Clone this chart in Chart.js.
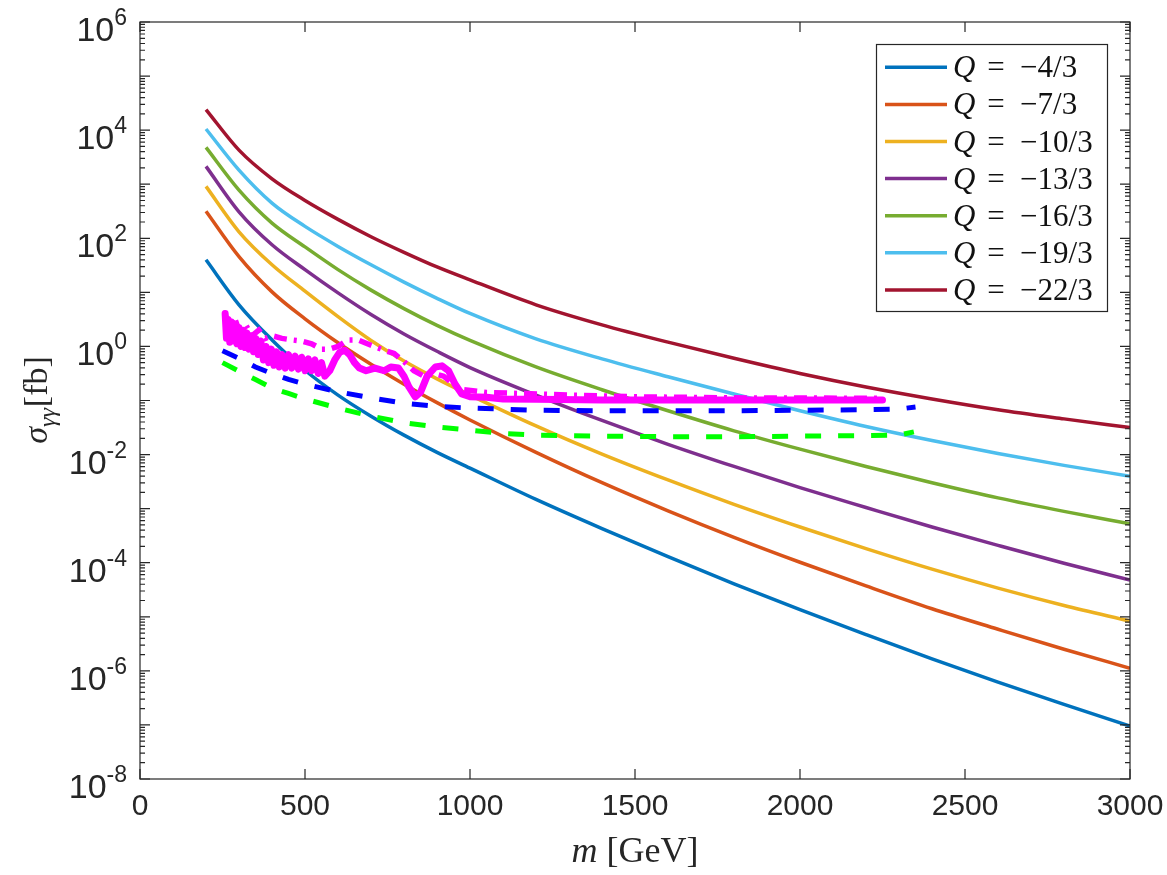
<!DOCTYPE html>
<html>
<head>
<meta charset="utf-8">
<script src="https://cdn.jsdelivr.net/npm/chart.js@4.4.0/dist/chart.umd.min.js"></script>
<style>
body { margin: 0; background: #ffffff; }
#caixa { width: 1167px; height: 875px; }
</style>
</head>
<body>
<div id="caixa"><canvas id="grafico"></canvas></div>
<script>
// ////////////// DADOS //////////////

var massa = [200, 300, 400, 500, 600, 700, 800, 900, 1000, 1200, 1400, 1600, 1800, 2000, 2200, 2400, 2600, 2800, 3000];

var sigmaQ4 = [40, 5.89, 1.32, 3.63e-1, 1.26e-1, 5.13e-2, 2.29e-2, 1.10e-2, 5.62e-3, 1.48e-3, 4.27e-4, 1.29e-4, 4.07e-5, 1.35e-5, 4.68e-6, 1.66e-6, 6.17e-7, 2.40e-7, 9.55e-8];
var sigmaQ7 = [316, 45.7, 10.2, 3.24, 1.17, 4.68e-1, 2.00e-1, 9.12e-2, 4.37e-2, 1.10e-2, 3.02e-3, 9.12e-4, 2.95e-4, 1.02e-4, 3.72e-5, 1.41e-5, 5.89e-6, 2.51e-6, 1.12e-6];
var sigmaQ10 = [912, 132, 32.4, 10.5, 3.55, 1.29, 5.37e-1, 2.51e-1, 1.26e-1, 3.39e-2, 1.02e-2, 3.39e-3, 1.20e-3, 4.57e-4, 1.82e-4, 7.59e-5, 3.39e-5, 1.62e-5, 8.32e-6];
var sigmaQ13 = [2.14e3, 309, 75.9, 26.3, 9.77, 3.89, 1.70, 8.13e-1, 4.07e-1, 1.26e-1, 4.27e-2, 1.55e-2, 6.03e-3, 2.45e-3, 1.05e-3, 4.57e-4, 2.09e-4, 9.77e-5, 4.79e-5];
var sigmaQ16 = [4.79e3, 776, 191, 69.2, 26.3, 11.0, 5.01, 2.45, 1.29, 4.17e-1, 1.58e-1, 6.46e-2, 2.75e-2, 1.26e-2, 6.03e-3, 3.02e-3, 1.58e-3, 8.91e-4, 5.25e-4];
var sigmaQ19 = [1.05e4, 1.82e3, 447, 166, 70.8, 32.4, 15.5, 7.76, 4.07, 1.38, 5.89e-1, 2.75e-1, 1.32e-1, 6.46e-2, 3.31e-2, 1.82e-2, 1.05e-2, 6.31e-3, 3.98e-3];
var sigmaQ22 = [2.40e4, 4.27e3, 1.26e3, 501, 224, 107, 55.0, 29.5, 17.0, 5.89, 2.51, 1.20, 6.03e-1, 3.16e-1, 1.78e-1, 1.07e-1, 6.76e-2, 4.57e-2, 3.16e-2];

var rotulos = ["\u22124/3", "\u22127/3", "\u221210/3", "\u221213/3", "\u221216/3", "\u221219/3", "\u221222/3"];
var cores = ["#0072BD", "#D95319", "#EDB120", "#7E2F8E", "#77AC30", "#4DBEEE", "#A2142F"];

// limites experimentais
var massaAzul = [250, 300, 350, 400, 450, 500, 600, 700, 800, 900, 1000, 1100, 1200, 1400, 1600, 1800, 2000, 2200, 2300, 2350];
var limiteAzul = [8.32e-1, 6.03e-1, 4.17e-1, 3.16e-1, 2.45e-1, 2.00e-1, 1.45e-1, 1.12e-1, 8.91e-2, 7.76e-2, 7.24e-2, 6.92e-2, 6.61e-2, 6.46e-2, 6.46e-2, 6.46e-2, 6.61e-2, 6.76e-2, 6.92e-2, 7.59e-2];

var massaVerde = [250, 300, 350, 400, 450, 500, 600, 700, 800, 900, 1000, 1100, 1200, 1400, 1600, 1800, 2000, 2200, 2300, 2345];
var limiteVerde = [5.01e-1, 3.47e-1, 2.45e-1, 1.70e-1, 1.35e-1, 1.07e-1, 7.24e-2, 5.13e-2, 3.89e-2, 3.24e-2, 2.82e-2, 2.45e-2, 2.29e-2, 2.19e-2, 2.14e-2, 2.14e-2, 2.19e-2, 2.24e-2, 2.29e-2, 2.63e-2];

var massaMagenta = [258, 262, 267, 272, 277, 282, 288, 294, 300, 306, 312, 318, 324, 330, 337, 344, 351, 358, 366, 374, 382, 390, 398, 406, 414, 422, 430, 440, 450, 460, 470, 480, 490, 500, 510, 520, 530, 540, 550, 560, 575, 590, 605, 620, 635, 650, 665, 685, 712, 740, 760, 783, 800, 815, 834, 850, 870, 895, 915, 935, 955, 975, 1000, 1050, 1100, 1200, 1400, 1700, 2000, 2250];
var limiteMagenta = [4.07, 1.41, 3.16, 1.20, 2.82, 1.26, 2.51, 1.12, 2.24, 1.00, 2.00, 0.955, 1.78, 0.891, 1.58, 0.794, 1.41, 0.708, 1.26, 0.562, 1.00, 0.501, 0.891, 0.447, 0.794, 0.417, 0.708, 0.398, 0.708, 0.398, 0.661, 0.380, 0.631, 0.355, 0.589, 0.355, 0.562, 0.316, 0.501, 0.282, 0.355, 0.562, 0.776, 0.851, 0.708, 0.501, 0.398, 0.355, 0.398, 0.355, 0.417, 0.398, 0.282, 0.178, 0.117, 0.141, 0.282, 0.417, 0.437, 0.355, 0.200, 0.132, 0.117, 0.115, 0.107, 0.105, 0.102, 0.102, 0.102, 0.102];

var massaMagentaTraco = [258, 270, 285, 300, 320, 340, 360, 380, 400, 430, 460, 490, 520, 550, 575, 600, 630, 660, 700, 740, 770, 800, 830, 860, 890, 920, 950, 980, 1050, 1150, 1300, 1500, 1800, 2250];
var limiteMagentaTraco = [3.98, 2.24, 3.55, 2.00, 2.51, 1.58, 2.00, 1.41, 1.58, 1.41, 1.32, 1.26, 1.12, 0.891, 0.891, 1.00, 1.32, 1.32, 1.05, 0.851, 0.741, 0.525, 0.355, 0.282, 0.316, 0.282, 0.200, 0.158, 0.141, 0.135, 0.126, 0.117, 0.112, 0.110];

// eixos
var xTicks = [0, 500, 1000, 1500, 2000, 2500, 3000];
var yExpoentes = [-8, -6, -4, -2, 0, 2, 4, 6];

// ////////////// FUNCOES //////////////

function pontos(xs, ys) {
	return xs.map(function(x, i) { return { x: x, y: ys[i] }; });
}

var series = [sigmaQ4, sigmaQ7, sigmaQ10, sigmaQ13, sigmaQ16, sigmaQ19, sigmaQ22];
var datasets = [];
for (var i = 0; i < series.length; i++) {
	datasets.push({
		label: "Q = " + rotulos[i],
		data: pontos(massa, series[i]),
		borderColor: cores[i],
		borderWidth: 3.5,
		cubicInterpolationMode: 'monotone',
		pointRadius: 0,
		fill: false,
		order: 2
	});
}
datasets.push({ label: "limite1", data: pontos(massaAzul, limiteAzul), borderColor: "#0000FF", borderWidth: 5, borderDash: [16, 17], pointRadius: 0, fill: false, order: 1 });
datasets.push({ label: "limite2", data: pontos(massaVerde, limiteVerde), borderColor: "#00FF00", borderWidth: 5, borderDash: [16, 17], pointRadius: 0, fill: false, order: 1 });
datasets.push({ label: "limite3", data: pontos(massaMagenta, limiteMagenta), borderColor: "#FF00FF", borderWidth: 7, borderJoinStyle: 'round', borderCapStyle: 'round', pointRadius: 0, fill: false, order: 1 });
datasets.push({ label: "limite4", data: pontos(massaMagentaTraco, limiteMagentaTraco), borderColor: "#FF00FF", borderWidth: 5.5, borderDash: [13, 7, 3, 7], pointRadius: 0, fill: false, order: 1 });

// plugin: caixa, marcas, rotulos e legenda no estilo do matlab
var moldura = {
	id: 'moldura',
	afterDraw: function(chart) {
		var ctx = chart.ctx;
		var a = chart.chartArea;
		var sx = chart.scales.x;
		var sy = chart.scales.y;
		ctx.save();
		ctx.strokeStyle = '#262626';
		ctx.fillStyle = '#262626';
		ctx.lineWidth = 1.2;
		ctx.strokeRect(a.left, a.top, a.right - a.left, a.bottom - a.top);

		// eixo x
		ctx.font = '30px "Liberation Sans", Arial, sans-serif';
		ctx.textAlign = 'center';
		ctx.textBaseline = 'top';
		xTicks.forEach(function(v) {
			var p = sx.getPixelForValue(v);
			ctx.beginPath();
			ctx.moveTo(p, a.bottom); ctx.lineTo(p, a.bottom - 10);
			ctx.moveTo(p, a.top); ctx.lineTo(p, a.top + 10);
			ctx.stroke();
			ctx.fillText(String(v), p, a.bottom + 13);
		});

		// eixo y (log)
		for (var e = yExpoentes[0]; e <= yExpoentes[yExpoentes.length - 1]; e++) {
			for (var k = 1; k <= 9; k++) {
				if (e == yExpoentes[yExpoentes.length - 1] && k > 1) break;
				var p = sy.getPixelForValue(k * Math.pow(10, e));
				var len = (k == 1) ? 10 : 5;
				ctx.beginPath();
				ctx.moveTo(a.left, p); ctx.lineTo(a.left + len, p);
				ctx.moveTo(a.right, p); ctx.lineTo(a.right - len, p);
				ctx.stroke();
			}
		}
		ctx.textAlign = 'left';
		ctx.textBaseline = 'alphabetic';
		yExpoentes.forEach(function(e) {
			var p = sy.getPixelForValue(Math.pow(10, e));
			ctx.font = '34px "Liberation Sans", Arial, sans-serif';
			var w1 = ctx.measureText('10').width;
			ctx.font = '23px "Liberation Sans", Arial, sans-serif';
			var w2 = ctx.measureText(String(e)).width;
			var x0 = a.left - 13 - w1 - w2;
			ctx.font = '34px "Liberation Sans", Arial, sans-serif';
			ctx.fillText('10', x0, p + 19);
			ctx.font = '23px "Liberation Sans", Arial, sans-serif';
			ctx.fillText(String(e), x0 + w1, p + 3);
		});

		// titulo eixo x
		ctx.font = 'italic 36px "Liberation Serif", serif';
		var wm = ctx.measureText('m').width;
		ctx.font = '36px "Liberation Serif", serif';
		var wg = ctx.measureText(' [GeV]').width;
		var cx = (a.left + a.right) / 2 - (wm + wg) / 2;
		ctx.font = 'italic 36px "Liberation Serif", serif';
		ctx.fillText('m', cx, 862);
		ctx.font = '36px "Liberation Serif", serif';
		ctx.fillText(' [GeV]', cx + wm, 862);

		// titulo eixo y
		ctx.save();
		ctx.translate(47, (a.top + a.bottom) / 2);
		ctx.rotate(-Math.PI / 2);
		ctx.font = 'italic 34px "Liberation Serif", serif';
		var ws = ctx.measureText('\u03C3').width;
		ctx.font = 'italic 24px "Liberation Serif", serif';
		var wgg = ctx.measureText('\u03B3\u03B3').width;
		ctx.font = '34px "Liberation Serif", serif';
		var wfb = ctx.measureText('[fb]').width;
		var y0 = -(ws + wgg + wfb) / 2;
		ctx.font = 'italic 34px "Liberation Serif", serif';
		ctx.fillText('\u03C3', y0, 0);
		ctx.font = 'italic 24px "Liberation Serif", serif';
		ctx.fillText('\u03B3\u03B3', y0 + ws, 8);
		ctx.font = '34px "Liberation Serif", serif';
		ctx.fillText('[fb]', y0 + ws + wgg + 1, 0);
		ctx.restore();

		// legenda
		ctx.fillStyle = '#ffffff';
		ctx.fillRect(876.5, 44.5, 231, 267);
		ctx.strokeStyle = '#262626';
		ctx.lineWidth = 1.2;
		ctx.strokeRect(876.5, 44.5, 231, 267);
		for (var i = 0; i < 7; i++) {
			var ds = chart.data.datasets[i];
			var yc = 67.3 + i * 37.1;
			ctx.strokeStyle = ds.borderColor;
			ctx.lineWidth = 3.5;
			ctx.beginPath();
			ctx.moveTo(885, yc); ctx.lineTo(947, yc);
			ctx.stroke();
			ctx.fillStyle = '#111111';
			ctx.font = 'italic 31px "Liberation Serif", serif';
			ctx.fillText('Q', 953, yc + 10);
			var wq = ctx.measureText('Q').width;
			ctx.font = '31px "Liberation Serif", serif';
			ctx.fillText(' =  ' + rotulos[i], 953 + wq + 4, yc + 10);
		}
		ctx.restore();
	}
};

// ////////////// GRAFICO //////////////

var grafico = new Chart(document.getElementById("grafico"), {
	type: 'line',
	data: { datasets: datasets },
	options: {
		responsive: true,
		maintainAspectRatio: false,
		animation: false,
		devicePixelRatio: 1,
		layout: { padding: { left: 0, right: 37, top: 22, bottom: 0 } },
		plugins: {
			legend: { display: false },
			tooltip: { enabled: false }
		},
		scales: {
			x: {
				type: 'linear',
				min: 0,
				max: 3000,
				ticks: { display: false },
				grid: { display: false },
				border: { display: false },
				afterFit: function(s) { s.height = 96; }
			},
			y: {
				type: 'logarithmic',
				min: 1e-8,
				max: 1e6,
				ticks: { display: false },
				grid: { display: false },
				border: { display: false },
				afterFit: function(s) { s.width = 140; }
			}
		}
	},
	plugins: [moldura]
});
</script>
</body>
</html>
